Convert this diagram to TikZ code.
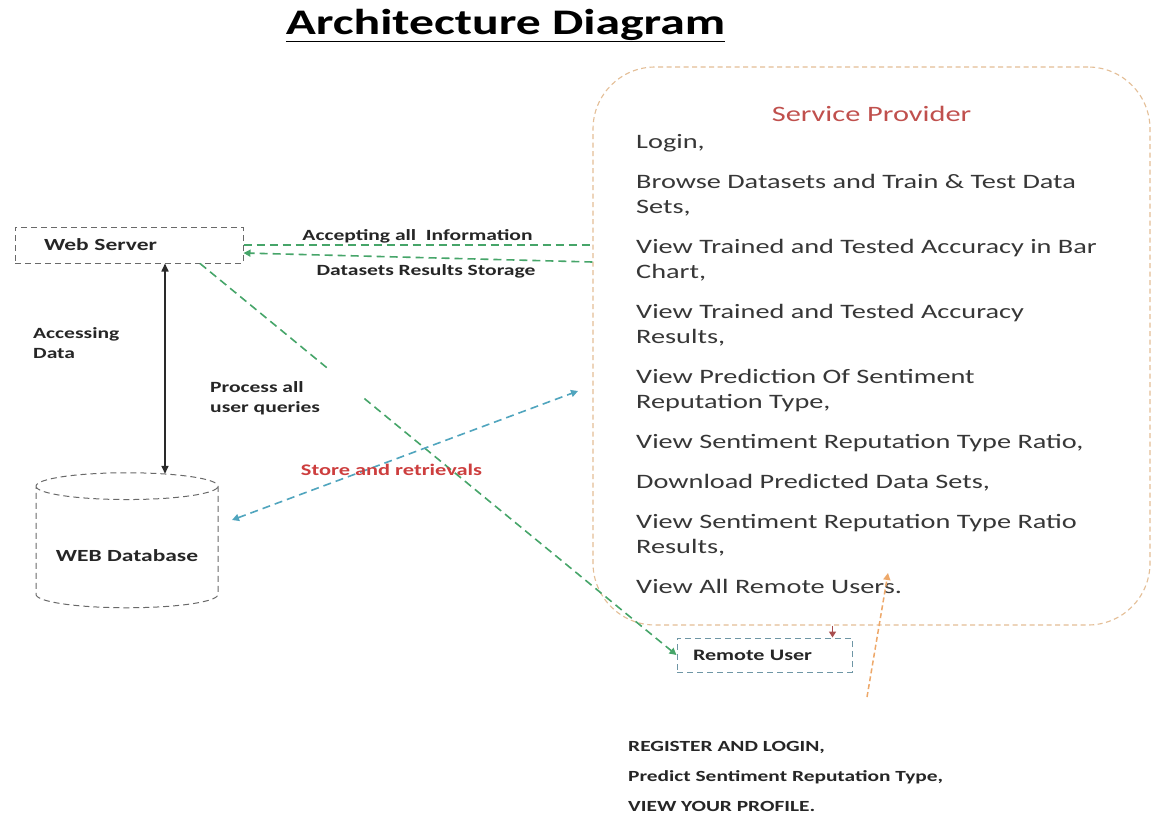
\documentclass[tikz,border=0pt]{standalone}
\usepackage{fontspec}
\setmainfont{Carlito}[FakeStretch=1.38]
\usepackage{xcolor}
\usetikzlibrary{arrows.meta, positioning, shapes.geometric}

\definecolor{txtdark}{RGB}{38,38,38}
\definecolor{listgray}{RGB}{55,55,55}
\definecolor{boxgray}{RGB}{105,105,105}
\definecolor{flowgreen}{RGB}{70,165,105}
\definecolor{linkteal}{RGB}{80,165,190}
\definecolor{spline}{RGB}{228,190,150}
\definecolor{regorange}{RGB}{238,168,105}
\definecolor{markred}{RGB}{168,78,78}
\definecolor{sptitle}{RGB}{192,80,77}
\definecolor{storered}{RGB}{205,62,62}
\definecolor{userline}{RGB}{110,150,165}

\begin{document}
\begin{tikzpicture}[x=1pt, y=-1pt,
    boxlbl/.style={font=\bfseries\fontsize{17}{20}\selectfont, text=txtdark},
    smalllbl/.style={font=\bfseries\fontsize{15.6}{20}\selectfont, text=txtdark, inner sep=0pt, align=left},
    serverbox/.style={draw=boxgray, line width=1pt, dash pattern=on 6pt off 4pt,
        minimum width=228pt, minimum height=36pt, text width=170pt, inner xsep=29pt, align=left, boxlbl},
    userbox/.style={draw=userline, line width=1pt, dash pattern=on 6pt off 4pt,
        minimum width=175pt, minimum height=34pt, text width=143pt, inner xsep=16pt, align=left,
        font=\bfseries\fontsize{16}{20}\selectfont, text=txtdark},
    dbshape/.style={cylinder, shape border rotate=90, aspect=0.18, draw=boxgray, line width=1pt,
        dash pattern=on 6pt off 4pt, minimum width=182pt, minimum height=135pt, boxlbl},
    spbox/.style={draw=spline, line width=1.1pt, dash pattern=on 5pt off 3.5pt, rounded corners=62pt,
        minimum width=557pt, minimum height=558pt},
    splist/.style={font=\fontsize{20.5}{25}\selectfont, text=listgray, align=left, inner sep=0pt},
    flow/.style={draw=flowgreen, line width=1.6pt, dash pattern=on 8pt off 5pt},
    link/.style={draw=linkteal, line width=1.6pt, dash pattern=on 8pt off 5pt},
    tip/.style={-{Triangle[length=7pt,width=7pt]}}
]
    % Page
    \fill[white] (0,0) rectangle (1155,819);
    \useasboundingbox (0,0) rectangle (1155,819);

    % Title
    \node[font=\bfseries\fontsize{36}{40}\selectfont, text=black, anchor=base] (title) at (505.5,34)
        {\underline{Architecture Diagram}};

    % Blocks
    \node[serverbox] (ws) at (129,245) {Web Server};
    \node[dbshape] (db) at (127,549) {\raisebox{-12pt}[0pt][0pt]{WEB Database}};
    \node[spbox] (sp) at (871.5,346) {};
    \node[userbox] (ru) at (764.5,655) {Remote User};

    % Service provider contents
    \node[font=\fontsize{22}{26}\selectfont, text=sptitle, anchor=base] (sphead) at (871.5,121) {Service Provider};
    \node[splist, anchor=north west] (spitems) at (636,134) {Login,\\[15pt]
        Browse Datasets and Train \& Test Data\\Sets,\\[15pt]
        View Trained and Tested Accuracy in Bar\\Chart,\\[15pt]
        View Trained and Tested Accuracy\\Results,\\[15pt]
        View Prediction Of Sentiment\\Reputation Type,\\[15pt]
        View Sentiment Reputation Type Ratio,\\[15pt]
        Download Predicted Data Sets,\\[15pt]
        View Sentiment Reputation Type Ratio\\Results,\\[15pt]
        View All Remote Users.};

    % Web server <-> service provider
    \draw[flow] (ws.east) -- (ws.east -| sp.west);
    \draw[flow, tip] ([yshift=-17pt]ws.east -| sp.west) -- ([yshift=-8pt]ws.east);
    \node[smalllbl, anchor=base] (acclbl) at (417.5,240) {Accepting all\ \ Information};
    \node[smalllbl, anchor=base] (storelbl) at (426,275) {Datasets Results Storage};

    % Web server <-> database
    \draw[boxgray!40!black, line width=1.6pt, {Triangle[length=8pt,width=7pt]}-{Triangle[length=8pt,width=7pt]}]
        ([xshift=36pt]ws.south) -- ([xshift=38pt,yshift=-1.5pt]db.north);
    \node[smalllbl, anchor=west] (datalbl) at (33,343) {Accessing\\Data};

    % Queries to remote user
    \coordinate (qstart) at ([xshift=71pt]ws.south);
    \path (qstart) -- (ru.west) coordinate[pos=0.266] (qgapa) coordinate[pos=0.345] (qgapb);
    \draw[flow] (qstart) -- (qgapa);
    \draw[flow, tip] (qgapb) -- (ru.west);
    \node[smalllbl, anchor=west] (querylbl) at (210,398) {Process all\\user queries};

    % Database <-> service provider
    \coordinate (dbtip) at (232,520);
    \coordinate (sptip) at (578,391);
    \draw[link, {Triangle[length=7pt,width=7pt]}-{Triangle[length=7pt,width=7pt]}] (dbtip) -- (sptip);
    \node[smalllbl, text=storered, anchor=base, font=\bfseries\fontsize{16.2}{20}\selectfont] (retlbl) at (391.5,475)
        {Store and retrievals};

    % Remote user links
    \draw[markred, line width=1.5pt, -{Triangle[length=6pt,width=7pt]}]
        ([xshift=-20pt]ru.north east |- sp.south) -- ([xshift=-20pt]ru.north east);
    \coordinate (regfoot) at (867,697);
    \coordinate (regtip) at (888,573);
    \draw[regorange, line width=1.5pt, dash pattern=on 5pt off 3pt, tip] (regfoot) -- (regtip);

    % Remote user functions
    \node[smalllbl, font=\bfseries\fontsize{15.5}{30}\selectfont, anchor=west] (rulist) at (628,776)
        {REGISTER AND LOGIN,\\Predict Sentiment Reputation Type,\\VIEW YOUR PROFILE.};
\end{tikzpicture}
\end{document}
